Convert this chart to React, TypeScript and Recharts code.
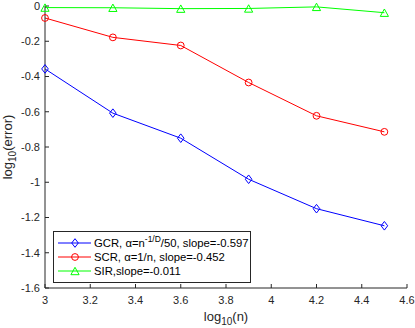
import React from "react";
import { LineChart, Line, XAxis, YAxis, Label, Legend } from "recharts";

const xValues = [3, 3.3, 3.6, 3.9, 4.2, 4.5];
const gcrValues = [-0.357, -0.608, -0.75, -0.983, -1.15, -1.247];
const scrValues = [-0.068, -0.178, -0.224, -0.434, -0.623, -0.714];
const sirValues = [-0.009, -0.01, -0.015, -0.014, -0.005, -0.038];

const xTicks = [3, 3.2, 3.4, 3.6, 3.8, 4, 4.2, 4.4, 4.6];
const yTicks = [0, -0.2, -0.4, -0.6, -0.8, -1, -1.2, -1.4, -1.6];

const AXIS_COLOR = "#262626";
const FONT = "'Liberation Sans', Arial, Helvetica, sans-serif";

const chartData = xValues.map((x, i) => ({
  x,
  gcr: gcrValues[i],
  scr: scrValues[i],
  sir: sirValues[i],
}));

function Diamond({ cx, cy, color }: any) {
  return (
    <path
      d={`M${cx},${cy - 4.3} L${cx + 3.3},${cy} L${cx},${cy + 4.3} L${cx - 3.3},${cy} Z`}
      fill="none"
      stroke={color}
      strokeWidth={1}
    />
  );
}

function Circle({ cx, cy, color }: any) {
  return <circle cx={cx} cy={cy} r={3.4} fill="none" stroke={color} strokeWidth={1} />;
}

function Triangle({ cx, cy, color }: any) {
  return (
    <path
      d={`M${cx},${cy - 3.7} L${cx + 4.1},${cy + 3.7} L${cx - 4.1},${cy + 3.7} Z`}
      fill="none"
      stroke={color}
      strokeWidth={1}
    />
  );
}

const SERIES = [
  { key: "gcr", color: "#0000ff", Marker: Diamond },
  { key: "scr", color: "#ff0000", Marker: Circle },
  { key: "sir", color: "#00ff00", Marker: Triangle },
];

function LegendBox() {
  const rows = [
    <>
      GCR, α=n<sup style={{ fontSize: 8.5, verticalAlign: 5, lineHeight: 0 }}>-1/D</sup>/50, slope=-0.597
    </>,
    <>SCR, α=1/n, slope=-0.452</>,
    <>SIR,slope=-0.011</>,
  ];
  return (
    <div
      style={{
        width: 196,
        height: 46,
        border: `1px solid ${AXIS_COLOR}`,
        background: "#fff",
        fontFamily: FONT,
        fontSize: 11.3,
        color: "#000",
        paddingTop: 4,
        boxSizing: "content-box",
      }}
    >
      {SERIES.map((s, i) => (
        <div key={s.key} style={{ display: "flex", alignItems: "center", height: 14, lineHeight: "14px" }}>
          <svg width={40} height={14} style={{ flex: "none" }}>
            <line x1={4} x2={37} y1={7} y2={7} stroke={s.color} strokeWidth={1} />
            <s.Marker cx={21} cy={7} color={s.color} />
          </svg>
          <span style={{ whiteSpace: "nowrap" }}>{rows[i]}</span>
        </div>
      ))}
    </div>
  );
}

export default function App() {
  return (
    <div style={{ position: "absolute", left: 0, top: 0, background: "#fff" }}>
      <LineChart
        width={415}
        height={328}
        data={chartData}
        margin={{ top: 6, right: 8, left: 0, bottom: 0 }}
      >
        <XAxis
          dataKey="x"
          type="number"
          domain={[3, 4.6]}
          ticks={xTicks}
          height={40}
          stroke={AXIS_COLOR}
          tickSize={-4}
          tickMargin={12}
          tick={{ fill: AXIS_COLOR, fontSize: 11, fontFamily: FONT }}
          tickLine={{ stroke: AXIS_COLOR }}
        >
          <Label
            content={({ viewBox }: any) => (
              <text
                x={viewBox.x + viewBox.width / 2}
                y={321}
                textAnchor="middle"
                fontSize={13}
                fontFamily={FONT}
                fill={AXIS_COLOR}
              >
                log
                <tspan fontSize={10} dy={4}>10</tspan>
                <tspan dy={-4}>(n)</tspan>
              </text>
            )}
          />
        </XAxis>
        <YAxis
          type="number"
          domain={[-1.6, 0]}
          ticks={yTicks}
          width={45}
          stroke={AXIS_COLOR}
          tickSize={-4}
          tickMargin={9}
          tick={{ fill: AXIS_COLOR, fontSize: 11, fontFamily: FONT }}
          tickLine={{ stroke: AXIS_COLOR }}
        >
          <Label
            content={({ viewBox }: any) => {
              const cy = viewBox.y + viewBox.height / 2;
              return (
                <text
                  x={12}
                  y={cy}
                  transform={`rotate(-90, 12, ${cy})`}
                  textAnchor="middle"
                  fontSize={13}
                  fontFamily={FONT}
                  fill={AXIS_COLOR}
                >
                  log
                  <tspan fontSize={10} dy={4}>10</tspan>
                  <tspan dy={-4}>(error)</tspan>
                </text>
              );
            }}
          />
        </YAxis>
        <Legend
          layout="horizontal"
          verticalAlign="middle"
          align="center"
          wrapperStyle={{ position: "absolute", left: 53, top: 231, width: "auto" }}
          content={() => <LegendBox />}
        />
        {SERIES.map((s) => (
          <Line
            key={s.key}
            dataKey={s.key}
            stroke={s.color}
            strokeWidth={1}
            isAnimationActive={false}
            dot={(p: any) => <s.Marker key={`${s.key}-${p.index}`} cx={p.cx} cy={p.cy} color={s.color} />}
            activeDot={false}
          />
        ))}
      </LineChart>
    </div>
  );
}
